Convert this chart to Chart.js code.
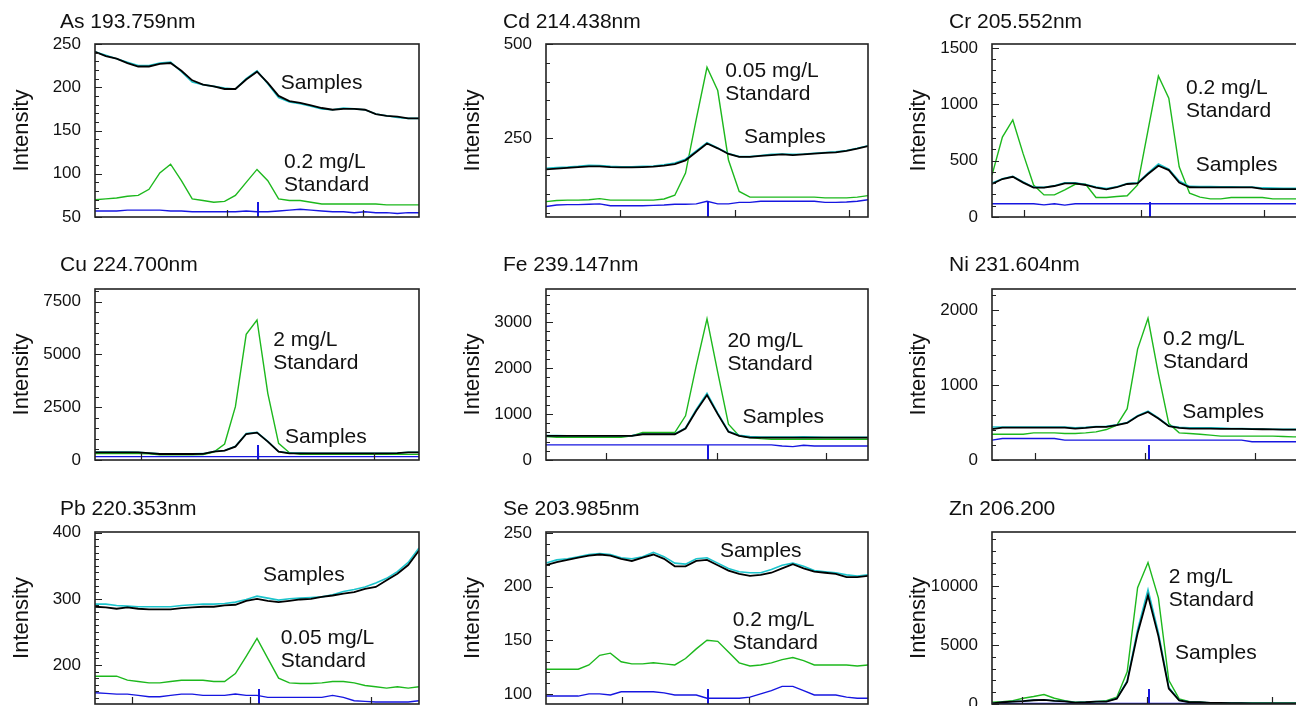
<!DOCTYPE html>
<html>
<head>
<meta charset="utf-8">
<script src="https://cdn.jsdelivr.net/npm/chart.js@4.4.1/dist/chart.umd.min.js"></script>
<style>
  html, body { margin: 0; padding: 0; background: #fff; }
  #page { position: relative; width: 1296px; height: 706px; overflow: hidden; background: #fff; }
  #page canvas { position: absolute; }
</style>
</head>
<body>
<div id="page"></div>
<script>
// spectra, 31 points per window (index 0..30 across the wavelength window)
const asSamples  = [241, 236, 233, 228, 224, 224, 227, 228, 219, 208, 203, 201, 198, 198, 209, 218, 205, 190, 184, 182, 179, 176, 174, 175, 175, 174, 169, 167, 166, 164, 164];
const asRepeat   = [241, 237, 233, 229, 225, 225, 228, 229, 218, 206, 203, 201, 199, 198, 210, 219, 204, 188, 183, 181, 178, 175, 174, 176, 175, 174, 169, 167, 165, 164, 164];
const asStandard = [70, 71, 72, 74, 75, 82, 101, 111, 92, 71, 69, 67, 68, 75, 90, 105, 92, 71, 69, 69, 67, 65, 65, 65, 65, 65, 65, 64, 64, 64, 64];
const asBlank    = [57, 57, 57, 58, 58, 58, 58, 57, 57, 56, 56, 56, 56, 56, 57, 56, 56, 57, 58, 59, 58, 57, 56, 56, 55, 56, 55, 55, 54, 55, 55];

const cdSamples  = [166, 168, 170, 172, 174, 174, 172, 171, 171, 172, 173, 176, 180, 190, 212, 235, 222, 207, 199, 199, 202, 204, 206, 204, 206, 208, 210, 211, 215, 221, 228];
const cdRepeat   = [169, 171, 172, 174, 177, 176, 174, 173, 173, 174, 175, 178, 183, 193, 215, 237, 223, 208, 200, 200, 203, 206, 207, 206, 207, 209, 211, 213, 216, 222, 229];
const cdStandard = [80, 83, 84, 84, 85, 88, 84, 84, 84, 84, 84, 87, 97, 156, 300, 438, 376, 191, 107, 92, 92, 92, 92, 92, 92, 92, 90, 90, 90, 92, 96];
const cdBlank    = [67, 71, 72, 72, 73, 74, 69, 69, 69, 69, 70, 71, 73, 73, 74, 81, 74, 74, 78, 78, 81, 81, 81, 81, 81, 81, 78, 78, 79, 81, 85];

const crSamples  = [293, 337, 357, 305, 261, 261, 275, 299, 299, 284, 261, 246, 264, 293, 299, 381, 455, 416, 305, 264, 262, 262, 262, 262, 262, 262, 249, 247, 247, 247, 247];
const crRepeat   = [300, 340, 360, 310, 265, 263, 278, 303, 303, 288, 266, 252, 268, 296, 303, 390, 470, 425, 320, 272, 270, 270, 268, 268, 266, 266, 258, 256, 255, 254, 254];
const crStandard = [372, 709, 861, 560, 284, 196, 196, 240, 290, 290, 173, 173, 182, 188, 284, 768, 1251, 1055, 445, 211, 176, 161, 161, 173, 173, 173, 173, 161, 161, 161, 161];
const crBlank    = [117, 117, 117, 117, 117, 108, 117, 105, 117, 117, 117, 117, 117, 117, 117, 117, 117, 117, 117, 117, 117, 117, 117, 117, 117, 117, 117, 117, 117, 117, 117];

const cuSamples  = [363, 363, 363, 363, 363, 330, 284, 284, 284, 284, 290, 395, 442, 632, 1232, 1295, 868, 395, 316, 316, 316, 316, 316, 316, 316, 316, 316, 316, 330, 363, 363];
const cuRepeat   = [380, 380, 375, 375, 370, 335, 290, 290, 290, 290, 300, 400, 450, 650, 1250, 1310, 880, 400, 330, 325, 320, 320, 320, 320, 320, 320, 320, 320, 335, 370, 370];
const cuStandard = [300, 300, 300, 300, 300, 290, 250, 250, 250, 250, 260, 379, 758, 2526, 5953, 6632, 3158, 789, 347, 268, 268, 268, 268, 268, 268, 268, 268, 268, 268, 268, 268];
const cuBlank    = [158, 158, 158, 158, 158, 158, 158, 158, 158, 158, 158, 158, 158, 158, 158, 158, 158, 158, 158, 158, 158, 158, 158, 158, 158, 158, 158, 158, 158, 158, 158];

const feSamples  = [524, 524, 524, 524, 524, 524, 524, 524, 524, 560, 560, 560, 560, 684, 1070, 1412, 997, 612, 524, 488, 488, 488, 488, 488, 488, 488, 488, 488, 488, 488, 488];
const feRepeat   = [530, 530, 528, 528, 528, 528, 528, 528, 530, 565, 565, 565, 565, 700, 1100, 1450, 1020, 625, 540, 510, 500, 500, 500, 500, 505, 500, 495, 495, 495, 495, 495];
const feStandard = [510, 495, 495, 495, 495, 495, 495, 495, 524, 597, 597, 597, 597, 961, 2053, 3072, 1907, 779, 524, 488, 466, 451, 451, 451, 451, 451, 451, 451, 451, 451, 451];
const feBlank    = [328, 328, 328, 328, 328, 328, 328, 328, 328, 328, 328, 328, 328, 328, 328, 328, 328, 328, 328, 328, 328, 328, 306, 291, 320, 306, 306, 306, 306, 306, 306];

const niSamples  = [411, 433, 433, 433, 433, 433, 433, 433, 419, 428, 441, 441, 464, 494, 583, 640, 552, 450, 428, 419, 419, 419, 415, 415, 415, 412, 410, 408, 406, 406, 406];
const niRepeat   = [441, 441, 441, 441, 441, 441, 441, 441, 430, 435, 445, 448, 470, 500, 590, 650, 560, 455, 435, 430, 430, 428, 425, 420, 418, 415, 413, 410, 408, 408, 408];
const niStandard = [344, 344, 344, 344, 362, 362, 362, 353, 353, 362, 375, 406, 464, 684, 1479, 1890, 1148, 486, 362, 353, 344, 331, 318, 318, 318, 318, 318, 318, 313, 309, 309];
const niBlank    = [265, 287, 287, 287, 287, 287, 287, 265, 265, 265, 265, 265, 265, 265, 265, 265, 265, 265, 265, 265, 265, 265, 265, 265, 265, 243, 243, 243, 243, 243, 243];

const pbSamples  = [288, 287, 285, 287, 285, 284, 284, 284, 286, 287, 288, 288, 290, 291, 297, 300, 297, 295, 297, 299, 300, 303, 305, 308, 310, 315, 318, 328, 338, 351, 373];
const pbRepeat   = [292, 292, 290, 289, 288, 288, 288, 288, 290, 291, 292, 292, 293, 295, 299, 304, 301, 298, 300, 301, 302, 303, 306, 311, 314, 318, 324, 331, 341, 355, 377];
const pbStandard = [183, 183, 183, 177, 175, 173, 173, 175, 177, 177, 177, 175, 175, 187, 213, 240, 210, 180, 173, 172, 172, 173, 175, 175, 173, 169, 167, 165, 167, 165, 167];
const pbBlank    = [158, 157, 156, 156, 154, 152, 152, 154, 156, 156, 154, 154, 154, 156, 154, 154, 151, 151, 151, 151, 151, 151, 154, 151, 146, 145, 144, 144, 144, 144, 146];

const seSamples  = [220, 223, 225, 227, 229, 230, 229, 226, 224, 227, 230, 226, 219, 219, 224, 225, 220, 215, 212, 210, 211, 213, 217, 221, 217, 214, 213, 212, 209, 209, 210];
const seRepeat   = [222, 225, 226, 228, 230, 231, 230, 227, 226, 228, 232, 228, 222, 221, 226, 227, 222, 217, 214, 213, 213, 216, 220, 222, 219, 215, 214, 213, 211, 210, 211];
const seStandard = [123, 123, 123, 123, 127, 136, 138, 130, 128, 128, 129, 128, 127, 133, 142, 150, 149, 139, 129, 126, 127, 129, 132, 134, 131, 127, 127, 127, 127, 126, 127];
const seBlank    = [98, 98, 98, 98, 100, 100, 99, 102, 102, 102, 102, 101, 99, 99, 99, 96, 96, 96, 96, 97, 100, 103, 107, 107, 103, 99, 99, 99, 97, 96, 96];

const znSamples  = [60, 150, 200, 250, 320, 350, 260, 220, 120, 150, 200, 200, 450, 1870, 6000, 9200, 5760, 1300, 300, 150, 150, 100, 100, 80, 80, 60, 60, 60, 60, 60, 60];
const znRepeat   = [60, 150, 210, 260, 330, 360, 270, 230, 130, 160, 210, 210, 480, 1950, 6300, 9700, 6050, 1400, 320, 160, 150, 110, 100, 90, 80, 70, 60, 60, 60, 60, 60];
const znStandard = [144, 200, 290, 490, 634, 806, 490, 290, 144, 144, 200, 288, 576, 2736, 9878, 12010, 9014, 2016, 432, 200, 144, 86, 86, 86, 86, 86, 86, 86, 86, 86, 86];
const znBlank    = [50, 50, 50, 50, 50, 50, 50, 50, 50, 50, 50, 50, 50, 50, 50, 50, 50, 50, 50, 50, 50, 50, 50, 50, 50, 50, 50, 50, 50, 50, 50];

// labelled y ticks
const asTicks = [50, 100, 150, 200, 250];
const cdTicks = [250, 500];
const crTicks = [0, 500, 1000, 1500];
const cuTicks = [0, 2500, 5000, 7500];
const feTicks = [0, 1000, 2000, 3000];
const niTicks = [0, 1000, 2000];
const pbTicks = [200, 300, 400];
const seTicks = [100, 150, 200, 250];
const znTicks = [0, 5000, 10000];

const FONT = '"Liberation Sans", Arial, Helvetica, sans-serif';
const COLORS = { samples: '#000000', repeat: '#1cc4cc', standard: '#1db81d', blank: '#1616e0', ink: '#111111' };

// grid of panels on the page
const colLeft = [95, 546, 992];
const colWidth = [324, 322, 312];
const titleInset = [60, 52, 52];
const rowTitleY = [22, 265, 509];
const rowTop = [44, 289, 532];
const rowBottom = [217, 460, 704];
const TICK_PAD = 14;
const BOTTOM_PAD = 26;

const panels = [
  { title: 'As 193.759nm', col: 0, row: 0, series: [asSamples, asRepeat, asStandard, asBlank], yMin: 50, yMax: 250, ticks: asTicks, minor: 10,
    xTicks: [12.2, 24.8], marker: 15.05,
    notes: [{ x: 17.2, y: 205, text: ['Samples'] }, { x: 17.5, y: 113.6, text: ['0.2 mg/L', 'Standard'] }] },
  { title: 'Cd 214.438nm', col: 1, row: 0, series: [cdSamples, cdRepeat, cdStandard, cdBlank], yMin: 39, yMax: 500, ticks: cdTicks, minor: 50,
    xTicks: [6.9, 17.6, 28.2], marker: 15.1,
    notes: [{ x: 16.7, y: 428, text: ['0.05 mg/L', 'Standard'] }, { x: 18.45, y: 252, text: ['Samples'] }] },
  { title: 'Cr 205.552nm', col: 2, row: 0, series: [crSamples, crRepeat, crStandard, crBlank], yMin: 0, yMax: 1535, ticks: crTicks, minor: 100,
    xTicks: [3.1, 14.3, 26.2], marker: 15.2,
    notes: [{ x: 18.65, y: 1145, text: ['0.2 mg/L', 'Standard'] }, { x: 19.6, y: 461, text: ['Samples'] }] },
  { title: 'Cu 224.700nm', col: 0, row: 1, series: [cuSamples, cuRepeat, cuStandard, cuBlank], yMin: 0, yMax: 8100, ticks: cuTicks, minor: 500,
    xTicks: [4.26, 15.1, 25.8], marker: 15.1,
    notes: [{ x: 16.5, y: 5683, text: ['2 mg/L', 'Standard'] }, { x: 17.6, y: 1090, text: ['Samples'] }] },
  { title: 'Fe 239.147nm', col: 1, row: 1, series: [feSamples, feRepeat, feStandard, feBlank], yMin: 0, yMax: 3720, ticks: feTicks, minor: 200,
    xTicks: [5.55, 15.9, 26.1], marker: 15.06,
    notes: [{ x: 16.9, y: 2588, text: ['20 mg/L', 'Standard'] }, { x: 18.3, y: 935, text: ['Samples'] }] },
  { title: 'Ni 231.604nm', col: 2, row: 1, series: [niSamples, niRepeat, niStandard, niBlank], yMin: 0, yMax: 2280, ticks: niTicks, minor: 200,
    xTicks: [4.1, 14.7, 25.3], marker: 15.1,
    notes: [{ x: 16.45, y: 1613, text: ['0.2 mg/L', 'Standard'] }, { x: 18.3, y: 640, text: ['Samples'] }] },
  { title: 'Pb 220.353nm', col: 0, row: 2, series: [pbSamples, pbRepeat, pbStandard, pbBlank], yMin: 141, yMax: 401, ticks: pbTicks, minor: 10,
    xTicks: [3.4, 14.35, 25.6], marker: 15.2,
    notes: [{ x: 15.55, y: 336, text: ['Samples'] }, { x: 17.2, y: 240.8, text: ['0.05 mg/L', 'Standard'] }] },
  { title: 'Se 203.985nm', col: 1, row: 2, series: [seSamples, seRepeat, seStandard, seBlank], yMin: 90.6, yMax: 251, ticks: seTicks, minor: 10,
    xTicks: [7.05, 18.9], marker: 15.1,
    notes: [{ x: 16.2, y: 233.3, text: ['Samples'] }, { x: 17.4, y: 168.9, text: ['0.2 mg/L', 'Standard'] }] },
  { title: 'Zn 206.200', col: 2, row: 2, series: [znSamples, znRepeat, znStandard, znBlank], yMin: 0, yMax: 14600, ticks: znTicks, minor: 1000,
    xTicks: [2.9, 14.9, 26.9], marker: 15.1,
    notes: [{ x: 17.0, y: 10781, text: ['2 mg/L', 'Standard'] }, { x: 17.6, y: 4329, text: ['Samples'] }] }
];

// panel title, frame, inward tick marks, peak marker and the text notes
const panelDecor = {
  id: 'panelDecor',
  afterDatasetsDraw(chart, args, opts) {
    const { ctx, chartArea: a, scales: { x, y } } = chart;
    ctx.save();
    ctx.strokeStyle = '#222';
    ctx.lineWidth = 1.2;
    ctx.beginPath();
    for (let v = Math.ceil(y.min / opts.minor) * opts.minor; v <= y.max; v += opts.minor) {
      const py = Math.round(y.getPixelForValue(v)) + 0.5;
      const len = opts.majors.includes(v) ? 7 : 4;
      ctx.moveTo(a.left, py);
      ctx.lineTo(a.left + len, py);
    }
    opts.xTicks.forEach(t => {
      const px = Math.round(x.getPixelForValue(t)) + 0.5;
      ctx.moveTo(px, a.bottom);
      ctx.lineTo(px, a.bottom - 7);
    });
    ctx.stroke();

    ctx.strokeStyle = COLORS.blank;
    ctx.lineWidth = 2;
    ctx.beginPath();
    const mx = Math.round(x.getPixelForValue(opts.marker));
    ctx.moveTo(mx, a.bottom);
    ctx.lineTo(mx, a.bottom - 15);
    ctx.stroke();

    ctx.strokeStyle = '#222';
    ctx.lineWidth = 1.6;
    ctx.strokeRect(a.left, a.top, a.right - a.left, a.bottom - a.top);

    ctx.fillStyle = COLORS.ink;
    ctx.textAlign = 'left';
    ctx.textBaseline = 'middle';
    ctx.font = '21px ' + FONT;
    ctx.fillText(opts.title, opts.titleX, opts.titleY);
    opts.notes.forEach(n => {
      const nx = x.getPixelForValue(n.x);
      const ny = y.getPixelForValue(n.y);
      n.text.forEach((line, i) => ctx.fillText(line, nx, ny + i * 23));
    });
    ctx.restore();
  }
};

function line(values, color, width) {
  return {
    data: values.map((v, i) => ({ x: i, y: v })),
    borderColor: color,
    borderWidth: width,
    pointRadius: 0,
    tension: 0,
    fill: false
  };
}

const page = document.getElementById('page');

panels.forEach(p => {
  const plotH = rowBottom[p.row] - rowTop[p.row];
  const w = 95 + colWidth[p.col] + 3;
  const h = 44 + plotH + BOTTOM_PAD;
  const top = rowTop[p.row] - 44;
  const canvas = document.createElement('canvas');
  canvas.width = w;
  canvas.height = h;
  canvas.style.left = (colLeft[p.col] - 95) + 'px';
  canvas.style.top = top + 'px';
  canvas.style.width = w + 'px';
  canvas.style.height = h + 'px';
  page.appendChild(canvas);

  new Chart(canvas.getContext('2d'), {
    type: 'line',
    data: {
      datasets: [
        line(p.series[0], COLORS.samples, 1.8),
        line(p.series[1], COLORS.repeat, 1.6),
        line(p.series[2], COLORS.standard, 1.4),
        line(p.series[3], COLORS.blank, 1.4)
      ]
    },
    options: {
      responsive: false,
      animation: false,
      devicePixelRatio: 1,
      layout: { padding: { left: 0, right: 3, top: 44, bottom: BOTTOM_PAD } },
      plugins: {
        legend: { display: false },
        tooltip: { enabled: false },
        title: { display: false },
        panelDecor: {
          title: p.title, titleX: titleInset[p.col], titleY: rowTitleY[p.row] - top,
          minor: p.minor, majors: p.ticks, xTicks: p.xTicks, marker: p.marker, notes: p.notes
        }
      },
      scales: {
        x: { type: 'linear', display: false, min: 0, max: 30 },
        y: {
          min: p.yMin,
          max: p.yMax,
          afterFit: s => { s.width = 95; },
          afterBuildTicks: s => { s.ticks = p.ticks.map(v => ({ value: v })); },
          grid: { display: false, drawTicks: false },
          border: { display: false },
          ticks: { padding: TICK_PAD, color: COLORS.ink, font: { family: FONT, size: 17 }, callback: v => String(v) },
          title: {
            display: true,
            text: 'Intensity',
            color: COLORS.ink,
            font: { family: FONT, size: 22 },
            padding: { top: 8.8, bottom: 0 }
          }
        }
      }
    },
    plugins: [panelDecor]
  });
});
</script>
</body>
</html>
